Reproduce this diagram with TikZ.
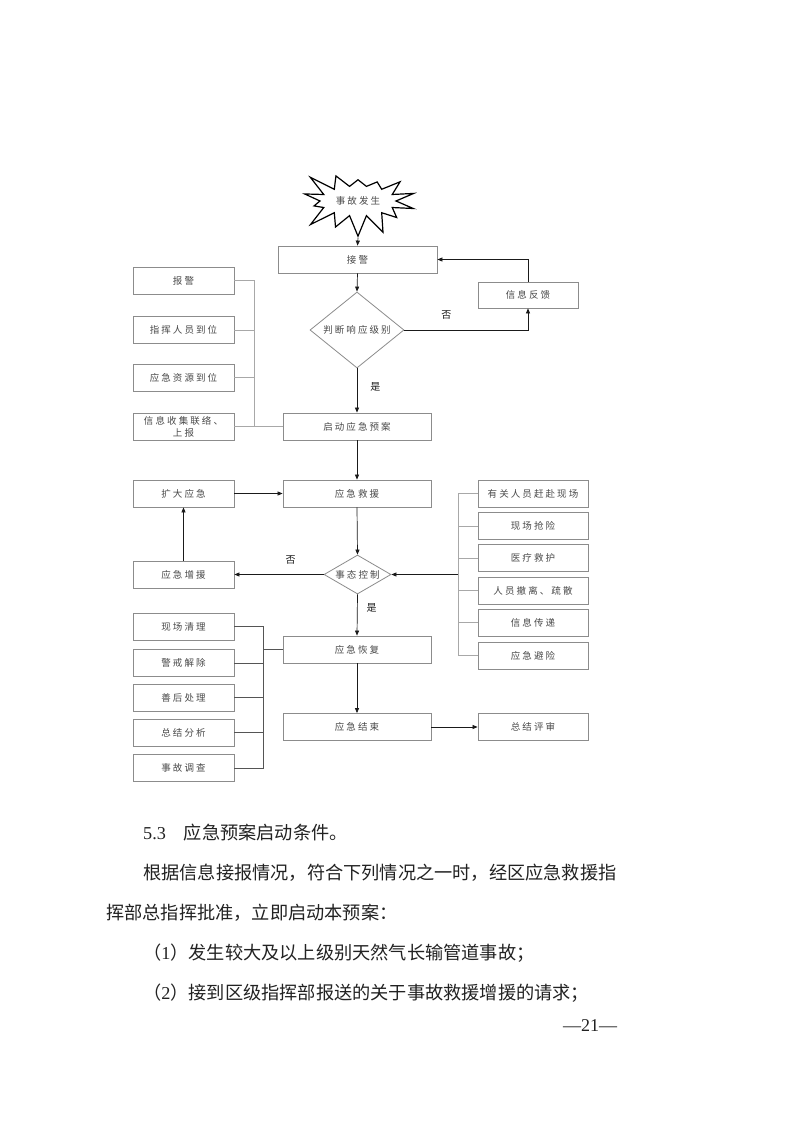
\documentclass[tikz,border=0pt]{standalone}
\usepackage{fontspec}
\setmainfont{Liberation Serif}
\newfontfamily\cjk{Noto Sans CJK SC}
\newfontfamily\cjkbox[LetterSpace=22]{Noto Sans CJK SC}
\usepackage{tikz}
\usetikzlibrary{shapes.geometric,shapes.symbols,arrows.meta,positioning,calc}
\definecolor{FCText}  {HTML}{4A4A4A}
\definecolor{FCEdge}  {HTML}{8C8C8C}
\definecolor{FCBus}   {HTML}{A8A8A8}
\definecolor{FCBusDk} {HTML}{555555}
\definecolor{FCArrow} {HTML}{1A1A1A}
\definecolor{PageText}{HTML}{222222}
\tikzset{
  fbox/.style={draw=FCEdge,line width=0.8pt,font=\cjkbox\fontsize{9.5}{12}\selectfont,
    text=FCText,inner sep=0pt,minimum height=27pt},
  sidebox/.style={fbox,minimum width=101pt},
  midbox/.style={fbox,minimum width=148pt},
  rbox/.style={fbox,minimum width=110pt},
  decide/.style={diamond,draw=FCEdge,line width=0.8pt,inner sep=0pt,
    font=\cjkbox\fontsize{9.5}{12}\selectfont,text=FCText},
  arr/.style={draw=FCArrow,line width=0.7pt,-{Triangle[length=5pt,width=4pt]}},
  bus/.style={draw=FCBus,line width=0.8pt},
  busdk/.style={draw=FCBusDk,line width=0.8pt},
  yn/.style={font=\cjk\fontsize{10}{12}\selectfont,text=FCArrow,inner sep=0pt},
  body/.style={anchor=base west,font=\fontsize{18.2}{20}\selectfont\cjk,text=PageText,inner sep=0pt}
}
\begin{document}
\begin{tikzpicture}[x=1pt,y=-1pt]
    \fill[white] (0,0) rectangle (793,1122);
    \useasboundingbox (0,0) rectangle (793,1122);
    % Accident and alarm
    \node[starburst,draw=black,line width=1.2pt,minimum width=124pt,minimum height=78pt,
          starburst points=14,starburst point height=24pt,random starburst=23,
          font=\cjkbox\fontsize{9.5}{12}\selectfont,text=FCText] (acc) at (358,201) {事故发生};
    \node[midbox,minimum width=159pt] (jj) at (357.5,259.5) {接警};
    \node[decide,minimum width=94pt,minimum height=76pt] (pd) at (357,330) {\makebox[0pt]{判断响应级别}};
    \node[fbox,minimum width=100pt,minimum height=26pt] (fk) at (528,295) {信息反馈};
    \node[midbox] (qd) at (357,426.5) {启动应急预案};
    % Start-up tasks
    \node[sidebox] (bj) at (183.5,280.5) {报警};
    \node[sidebox] (zh) at (183.5,330) {指挥人员到位};
    \node[sidebox] (zy) at (183.5,377.5) {应急资源到位};
    \node[sidebox,align=center] (xx) at (183.5,426.5) {信息收集联络、\\上报};
    % Rescue
    \node[sidebox] (kd) at (183.5,493.5) {扩大应急};
    \node[midbox] (jy) at (357,493.5) {应急救援};
    \node[decide,minimum width=67pt,minimum height=39pt] (tk) at (357.5,574.5) {\makebox[0pt]{事态控制}};
    \node[sidebox] (zengy) at (183.5,574.5) {应急增援};
    % Rescue tasks
    \node[rbox] (r1) at (533,493.5) {有关人员赶赴现场};
    \node[rbox] (r2) at (533,526) {现场抢险};
    \node[rbox] (r3) at (533,558) {医疗救护};
    \node[rbox] (r4) at (533,590.5) {人员撤离、疏散};
    \node[rbox] (r5) at (533,622.5) {信息传递};
    \node[rbox] (r6) at (533,655.5) {应急避险};
    % Recovery and close
    \node[midbox] (hf) at (357,649.5) {应急恢复};
    \node[midbox] (js) at (357,727) {应急结束};
    \node[rbox] (ps) at (533,727) {总结评审};
    \node[sidebox] (l1) at (183.5,626.5) {现场清理};
    \node[sidebox] (l2) at (183.5,663) {警戒解除};
    \node[sidebox] (l3) at (183.5,697.5) {善后处理};
    \node[sidebox] (l4) at (183.5,732.5) {总结分析};
    \node[sidebox] (l5) at (183.5,768) {事故调查};
    % Bus points
    \coordinate (busA) at (254,426.5);
    \coordinate (busR) at (458,574.5);
    \coordinate (busL) at (263,649.5);
    % Main flow
    \draw[arr] (acc.south) -- (jj.north);
    \draw[arr] (jj.south) -- (pd.north);
    \draw[arr] (pd.south) -- node[yn,pos=0.42,right=13pt]{是} (qd.north);
    \draw[arr] (pd.east) -| node[yn,pos=0.17,above=10pt]{否} (fk.south);
    \draw[arr] (fk.north) |- (jj.east);
    \draw[arr] (qd.south) -- (jy.north);
    \draw[arr] (kd.east) -- (jy.west);
    \draw[arr] (jy.south) -- (tk.north);
    \draw[arr] (tk.west) -- node[yn,pos=0.37,above=10pt]{否} (zengy.east);
    \draw[arr] (zengy.north) -- (kd.south);
    \draw[arr] (tk.south) -- node[yn,pos=0.33,right=9pt]{是} (hf.north);
    \draw[arr] (hf.south) -- (js.north);
    \draw[arr] (js.east) -- (ps.west);
    % Side groups
    \draw[bus] (bj.east) -| (busA) -- (qd.west);
    \foreach \n in {zh,zy,xx} \draw[bus] (\n.east) -- (\n.east -| busA);
    \draw[bus] (r1.west) -| (busR);
    \draw[bus] (r6.west) -| (busR);
    \foreach \n in {r2,r3,r4,r5} \draw[bus] (\n.west) -- (\n.west -| busR);
    \draw[arr] (busR) -- (tk.east);
    \draw[busdk] (l1.east) -| (busL) -- (hf.west);
    \draw[busdk] (l5.east) -| (busL);
    \foreach \n in {l2,l3,l4} \draw[busdk] (\n.east) -- (\n.east -| busL);
    % Page text
    \node[body] (h53) at (143,839) {{\rmfamily 5.3}\hspace{18pt}应急预案启动条件。};
    \node[body] (p1) at (143,879) {根据信息接报情况，符合下列情况之一时，经区应急救援指};
    \node[body] (p2) at (106,919) {挥部总指挥批准，立即启动本预案：};
    \node[body] (c1) at (143,959) {（{\rmfamily 1}）发生较大及以上级别天然气长输管道事故；};
    \node[body] (c2) at (143,999) {（{\rmfamily 2}）接到区级指挥部报送的关于事故救援增援的请求；};
    \node[body,font=\rmfamily\fontsize{18}{20}\selectfont] (pg) at (563,1031) {—21—};
\end{tikzpicture}
\end{document}
